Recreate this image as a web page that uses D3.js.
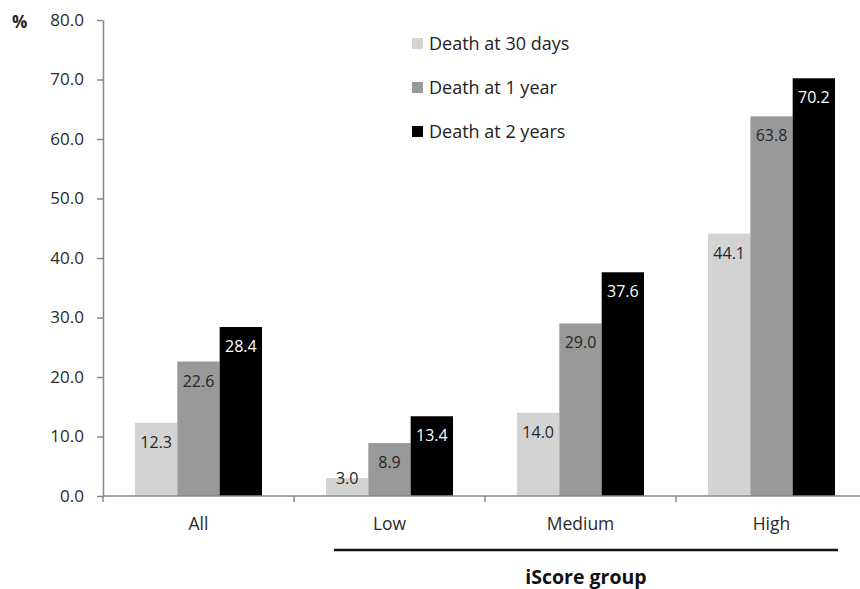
<!DOCTYPE html>
<html><head><meta charset="utf-8">
<script src="https://cdn.jsdelivr.net/npm/d3@7"></script>
<style>
html,body{margin:0;padding:0;background:#fff;}
svg{display:block;font-family:"Open Sans", Lato, sans-serif;}
</style></head>
<body>
<svg id="chart" width="860" height="589"></svg>
<script>
const categories = ["All", "Low", "Medium", "High"];
const seriesNames = ["Death at 30 days", "Death at 1 year", "Death at 2 years"];
const death30d = [12.3, 3.0, 14.0, 44.1];
const death1y = [22.6, 8.9, 29.0, 63.8];
const death2y = [28.4, 13.4, 37.6, 70.2];
const yTicks = [0, 10, 20, 30, 40, 50, 60, 70, 80];
const groupLabel = "iScore group";

const series = [death30d, death1y, death2y];
const fills = ["#d3d3d3", "#999999", "#000000"];
const labelFills = ["#262626", "#262626", "#ffffff"];

const svg = d3.select("#chart");
const mLeft = 103, mRight = 867, mTop = 20, mBottom = 496;

const x0 = d3.scaleBand().domain(categories).range([mLeft, mRight]).paddingInner(0).paddingOuter(0);
const x1 = d3.scaleBand().domain(d3.range(series.length)).range([32, x0.bandwidth() - 32]).padding(0);
const y = d3.scaleLinear().domain([0, 80]).range([mBottom, mTop]);

// bars
const g = svg.append("g");
categories.forEach((c, ci) => {
  series.forEach((s, si) => {
    const v = s[ci];
    const bx = x0(c) + x1(si);
    g.append("rect")
      .attr("x", bx).attr("y", y(v))
      .attr("width", x1.bandwidth()).attr("height", mBottom - y(v))
      .attr("fill", fills[si]);
    const by = Math.min(y(v) + 25, mBottom - 12);
    g.append("text")
      .attr("x", bx + x1.bandwidth() / 2).attr("y", by)
      .attr("text-anchor", "middle")
      .attr("font-size", 16)
      .attr("fill", labelFills[si])
      .text(v.toFixed(1));
  });
});

// y axis
const yAxis = d3.axisLeft(y).tickValues(yTicks).tickFormat(d => d.toFixed(1)).tickSize(6).tickSizeOuter(0).tickPadding(13);
const ya = svg.append("g").attr("transform", `translate(${mLeft},0)`).call(yAxis);
ya.select(".domain").attr("stroke", "#888").attr("stroke-width", 1.5);
ya.selectAll(".tick line").attr("stroke", "#888").attr("stroke-width", 1.5);
ya.selectAll(".tick text").attr("font-size", 17).attr("fill", "#2a2a2a").attr("font-family", "'Open Sans', Lato, sans-serif");

// x axis
const xa = svg.append("g").attr("transform", `translate(0,${mBottom})`);
xa.append("line").attr("x1", mLeft).attr("x2", mRight).attr("y1", 0).attr("y2", 0).attr("stroke", "#888").attr("stroke-width", 1.5);
categories.forEach(c => {
  xa.append("line").attr("x1", x0(c)).attr("x2", x0(c)).attr("y1", 0).attr("y2", 6).attr("stroke", "#888").attr("stroke-width", 1.5);
  xa.append("text").attr("x", x0(c) + x0.bandwidth() / 2).attr("y", 34)
    .attr("text-anchor", "middle").attr("font-size", 17.5).attr("fill", "#2a2a2a").text(c);
});

// group underline
const gx1 = x0("Low") + x1(0) + 8, gx2 = x0("High") + x1(2) + x1.bandwidth() + 3;
svg.append("line").attr("x1", gx1).attr("x2", gx2).attr("y1", 550).attr("y2", 550).attr("stroke", "#111").attr("stroke-width", 2.5);
svg.append("text").attr("x", (gx1 + gx2) / 2).attr("y", 584).attr("text-anchor", "middle")
  .attr("font-size", 19.5).attr("font-weight", "bold").attr("fill", "#111").text(groupLabel);

// % label
svg.append("text").attr("x", 12).attr("y", 28).attr("font-size", 17).attr("font-weight", "bold").attr("fill", "#222").text("%");

// legend
seriesNames.forEach((n, i) => {
  const ly = 44 + i * 44;
  svg.append("rect").attr("x", 412).attr("y", ly - 6).attr("width", 11).attr("height", 11).attr("fill", fills[i]);
  svg.append("text").attr("x", 429).attr("y", ly + 6).attr("font-size", 18).attr("fill", "#222").text(n);
});
</script>
</body></html>
